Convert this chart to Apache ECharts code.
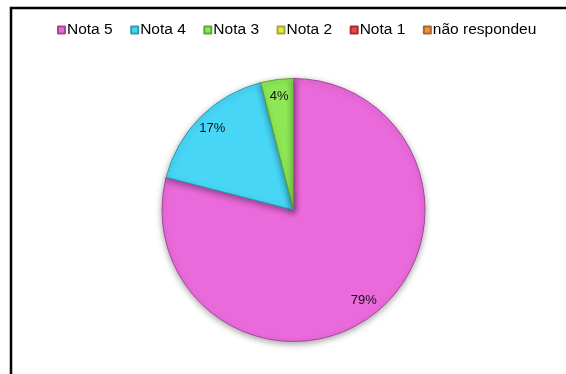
<!DOCTYPE html>
<html>
<head>
<meta charset="utf-8">
<script src="https://cdn.jsdelivr.net/npm/echarts@6/dist/echarts.min.js"></script>
<style>html,body{margin:0;padding:0;background:#fff;}#c{width:566px;height:374px;}</style>
</head>
<body>
<div id="c"></div>
<script>
const categories = ['Nota 5', 'Nota 4', 'Nota 3', 'Nota 2', 'Nota 1', 'não respondeu'];
const values = [79, 17, 4, 0, 0, 0];
const colors = ['#EA6ADB', '#48D6F6', '#8EE856', '#E6E64C', '#E84848', '#EA9440'];
const darker = ['#A8479C', '#2E9CB5', '#5FA836', '#A8A834', '#A83030', '#A8682A'];

const chart = echarts.init(document.getElementById('c'));
const mainData = categories.map((n, i) => ({
  name: n, value: values[i],
  itemStyle: { color: colors[i], borderColor: darker[i] }
}));
const labelData = categories.map((n, i) => ({ name: n, value: values[i] }));

chart.setOption({
  animation: false,
  backgroundColor: '#fff',
  graphic: [{
    type: 'rect', shape: { x: 11, y: 8, width: 600, height: 420 },
    style: { fill: 'none', stroke: '#000', lineWidth: 2.5 }, silent: true, z: 100
  }],
  legend: {
    data: categories,
    top: 17,
    left: 52,
    itemWidth: 7,
    itemHeight: 7,
    itemGap: 17.5,
    icon: 'rect',
    textStyle: { fontFamily: 'Liberation Sans, Arial, sans-serif', fontSize: 15.5, color: '#000', padding: [0, 0, 0, -3] }
  },
  series: [{
    type: 'pie',
    center: [293.5, 210],
    radius: [0, 131.5],
    startAngle: 90,
    clockwise: true,
    data: mainData,
    label: { show: false },
    labelLine: { show: false },
    itemStyle: { borderWidth: 1, shadowBlur: 6, shadowOffsetY: 2, shadowColor: 'rgba(0,0,0,0.35)' },
    emphasis: { disabled: true }
  }, {
    type: 'pie',
    center: [293.5, 210],
    radius: [92, 131.5],
    startAngle: 90,
    clockwise: true,
    silent: true,
    data: labelData,
    itemStyle: { color: 'rgba(0,0,0,0)' },
    label: {
      show: true, position: 'inside',
      fontFamily: 'Liberation Sans, Arial, sans-serif', fontSize: 13, color: '#111',
      formatter: p => p.value > 0 ? p.value + '%' : ''
    },
    labelLine: { show: false },
    emphasis: { disabled: true }
  }]
});
</script>
</body>
</html>
